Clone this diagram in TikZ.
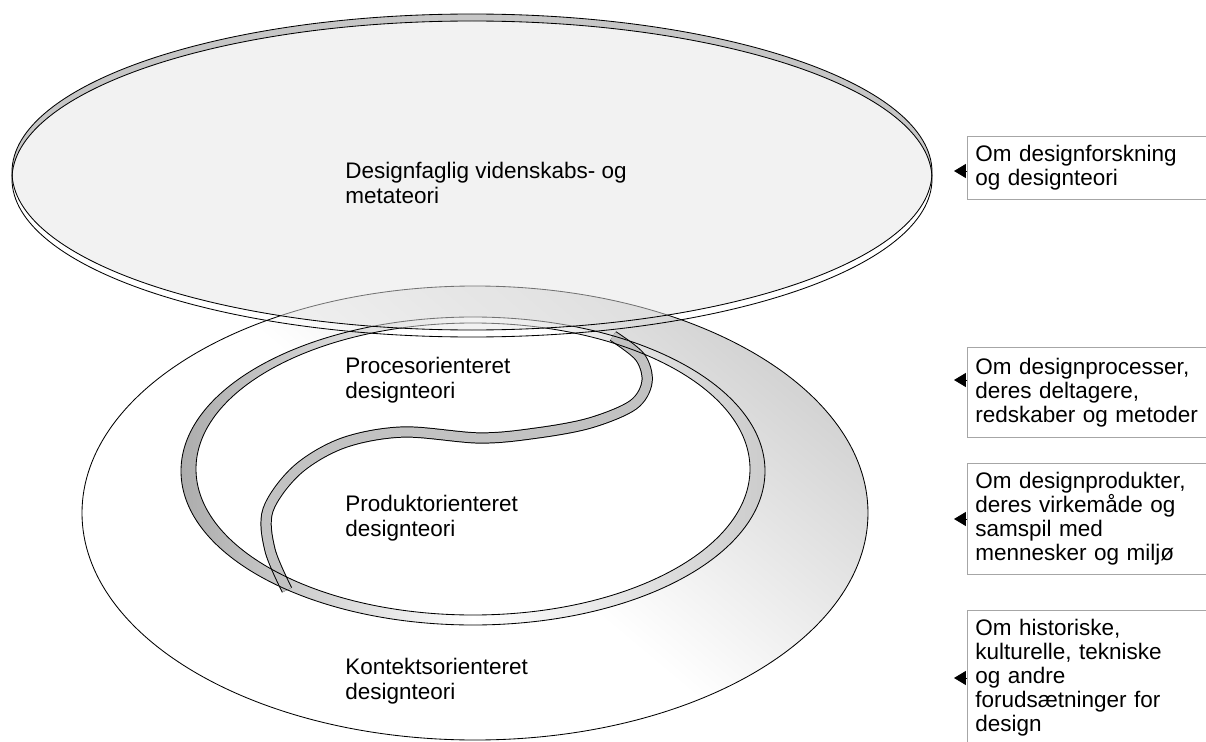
\documentclass[tikz,border=0pt]{standalone}
\usepackage{fontspec}
\setmainfont{Liberation Sans}
\usetikzlibrary{arrows.meta}

\begin{document}
\begin{tikzpicture}[
  x=0.025cm, y=-0.025cm,
  outline/.style={draw=black, line width=0.6pt},
  disklabel/.style={
    anchor=west, align=left, inner sep=0pt,
    font=\fontsize{16}{18.2}\selectfont
  },
  notebox/.style n args={1}{
    draw=gray!70, line width=0.6pt, anchor=north west,
    minimum height=#1, text width=6.7cm, inner xsep=0.2cm, inner ysep=0pt,
    align=left, font=\fontsize{16}{17.07}\selectfont
  },
  pointer/.style={
    line width=0.6pt, -{Triangle[length=8.5pt, width=10pt]}
  },
  ribbon/.style={line width=#1, line cap=butt}
]

%% page = reference size in px
\useasboundingbox (0,0) rectangle (1206,742);
\clip (0,0) rectangle (1206,742);

%% === CONTEXT DISC (bottom) ===
\def\cx{475}
\def\cy{513}
\shade[even odd rule, top color=gray!34, bottom color=white, middle color=white,
       shading angle=-40]
  (\cx,\cy) ellipse [x radius=393, y radius=227]
  (473,471) ellipse [x radius=292, y radius=154];
\draw[outline] (\cx,\cy) ellipse [x radius=393, y radius=227];

%% hole wall
\shade[even odd rule, left color=gray!65, right color=gray!40, middle color=white]
  (473,471) ellipse [x radius=292, y radius=154]
  (473,469) ellipse [x radius=277, y radius=146];

%% === S-CURVE between process and product ===
\def\scurve{(613,336) (640,357) (647,382) (633,405) (590,423) (537,433)
  (480,438) (403,432) (343,443) (297,470) (268,510) (270,550) (287,590)}
\draw[ribbon=8pt, black] plot[smooth, tension=0.55] coordinates {\scurve};
\draw[ribbon=6.6pt, gray!48] plot[smooth, tension=0.55] coordinates {\scurve};

\draw[outline] (473,471) ellipse [x radius=292, y radius=154];
\draw[outline] (473,469) ellipse [x radius=277, y radius=146];

%% === META DISC (top, see-through) ===
\def\tx{472}
\def\ty{172}
\fill[black!10, fill opacity=0.5] (\tx,\ty) ellipse [x radius=460, y radius=158];
\begin{scope}
  \clip (\tx,\ty) ellipse [x radius=460, y radius=158];
  \fill[gray!45, even odd rule]
    (\tx,\ty) ellipse [x radius=460, y radius=158]
    (\tx,179) ellipse [x radius=460, y radius=158];
\end{scope}
\draw[outline] (\tx,179) ellipse [x radius=460, y radius=158];
\draw[outline] (\tx,\ty) ellipse [x radius=460, y radius=158];

%% === LABELS ON THE DISCS ===
\node[disklabel] (meta) at (345,183) {Designfaglig videnskabs- og\\metateori};
\node[disklabel] (proc) at (345,380) {Procesorienteret\\designteori};
\node[disklabel] (prod) at (345,518) {Produktorienteret\\designteori};
\node[disklabel] (kont) at (345,681) {Kontektsorienteret\\designteori};

%% === NOTES (right) ===
\node[notebox={1.575cm}] (nmeta) at (967,136) {Om designforskning\\og designteori};
\node[notebox={2.25cm}]  (nproc) at (967,347) {Om designprocesser,\\deres deltagere,\\redskaber og metoder};
\node[notebox={2.775cm}] (nprod) at (967,463) {Om designprodukter,\\deres virkemåde og\\samspil med\\mennesker og miljø};
\node[notebox={3.35cm}]  (nkont) at (967,610) {Om historiske,\\kulturelle, tekniske\\og andre\\forudsætninger for\\design};

\coordinate (pmeta) at (954,171);
\coordinate (pproc) at (954,380);
\coordinate (pprod) at (954,519);
\coordinate (pkont) at (954,678);
\draw[pointer] (nmeta.west |- pmeta) -- (pmeta);
\draw[pointer] (nproc.west |- pproc) -- (pproc);
\draw[pointer] (nprod.west |- pprod) -- (pprod);
\draw[pointer] (nkont.west |- pkont) -- (pkont);

\end{tikzpicture}
\end{document}
